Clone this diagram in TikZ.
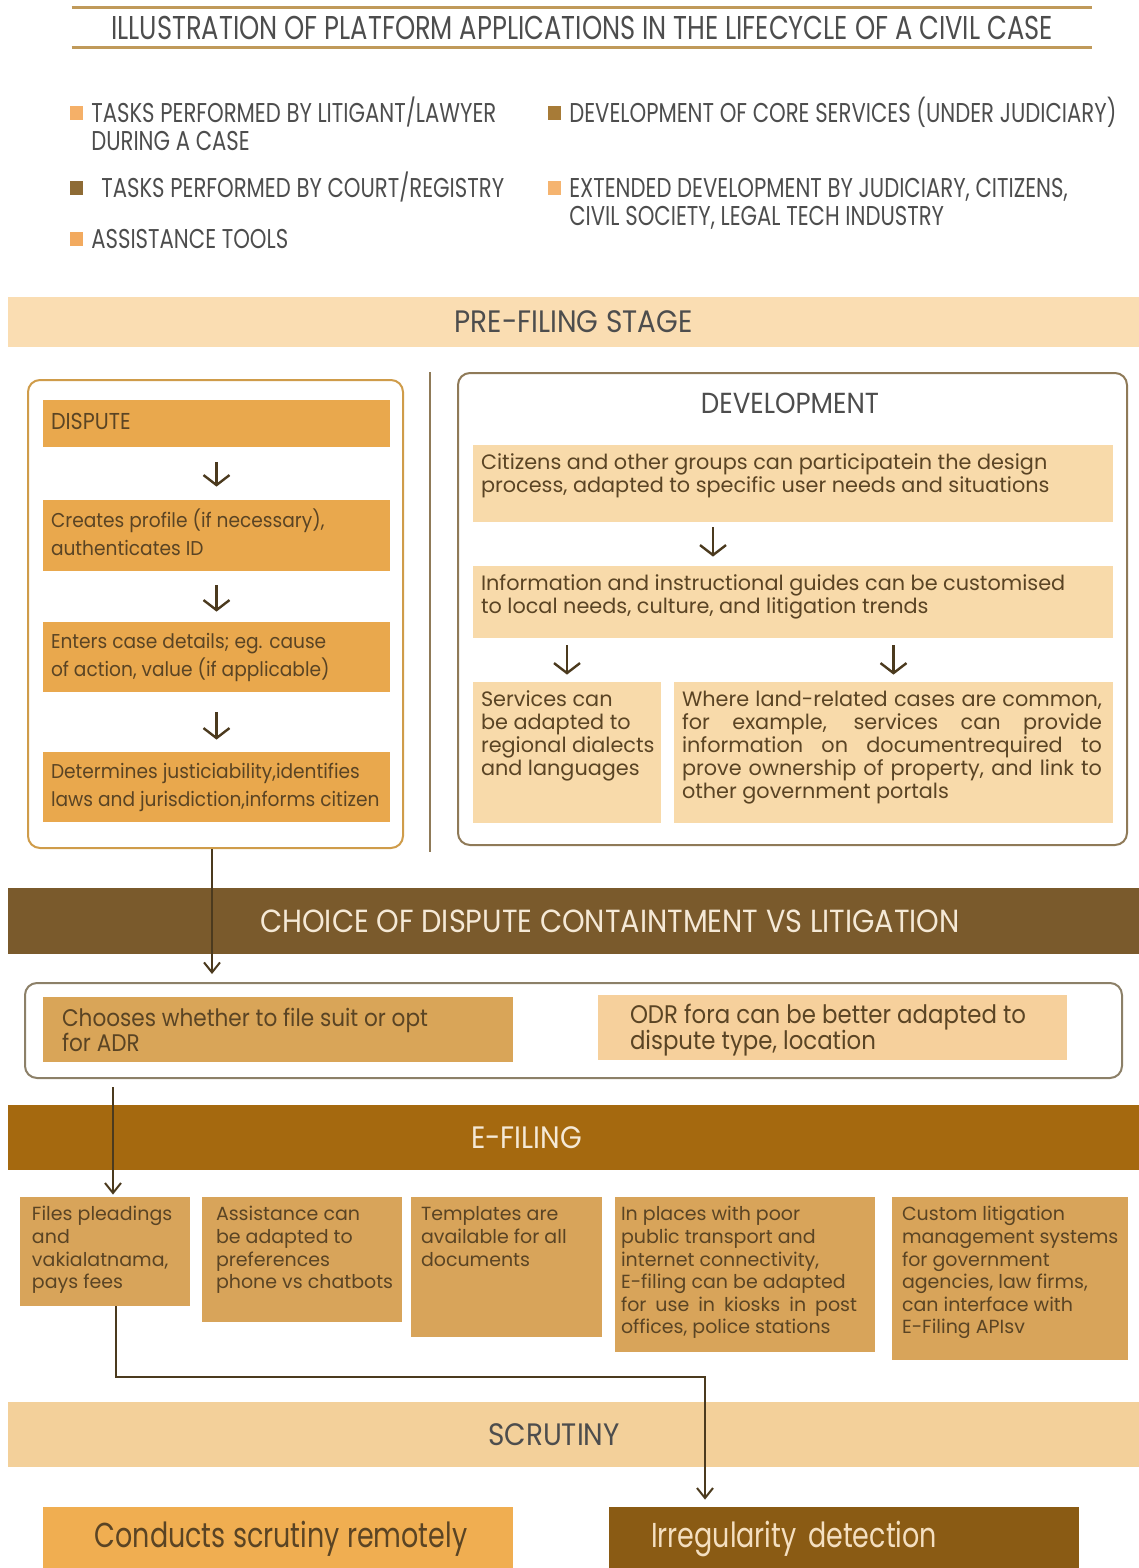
\documentclass[tikz,border=0pt]{standalone}
\usepackage{fontspec}
\setmainfont{Poppins}
\newfontfamily\condfont[FakeStretch=0.78]{Poppins}
\newfontfamily\midfont[FakeStretch=0.9]{Poppins}
\newfontfamily\narrowfont[FakeStretch=0.93]{Poppins}
\usetikzlibrary{arrows.meta, positioning, calc}

\definecolor{titlegold}{HTML}{C09A5A}
\definecolor{inkgray}{HTML}{4D4D4D}
\definecolor{inkbrown}{HTML}{5A4424}
\definecolor{legLit}{HTML}{F5B068}
\definecolor{legCourt}{HTML}{8E6B35}
\definecolor{legAssist}{HTML}{F2AA5F}
\definecolor{legCore}{HTML}{A77B37}
\definecolor{legExt}{HTML}{F5B470}
\definecolor{prefill}{HTML}{FADDB2}
\definecolor{framegold}{HTML}{CF9C4A}
\definecolor{taskorange}{HTML}{E9A84D}
\definecolor{framebrown}{HTML}{8F7A58}
\definecolor{devpeach}{HTML}{F8DAAA}
\definecolor{choicebrown}{HTML}{7A5A2C}
\definecolor{bandcream}{HTML}{F5E9D6}
\definecolor{framegray}{HTML}{8C8068}
\definecolor{choosefill}{HTML}{D9A558}
\definecolor{odrfill}{HTML}{F6D09C}
\definecolor{filebrown}{HTML}{A5690F}
\definecolor{filefill}{HTML}{D8A45A}
\definecolor{scrutfill}{HTML}{F3D09A}
\definecolor{conductfill}{HTML}{F0AE51}
\definecolor{irregfill}{HTML}{8A5B14}
\definecolor{irregtext}{HTML}{F4DFC0}
\definecolor{arrowbrown}{HTML}{4B3A1E}

% text block of fixed size: width, height, lines
\newcommand{\cell}[4][t]{\parbox[c][#3][#1]{#2}{\begin{tabular}{@{}l@{}}#4\end{tabular}}}

\tikzset{
  band/.style = {fill=#1, minimum width=565.5pt, inner sep=0pt, text=inkgray,
    font=\midfont\fontsize{15.5}{17}\selectfont},
  frame/.style = {draw=#1, rounded corners=6pt, line width=1pt, fill=white, inner sep=0pt},
  cellbox/.style = {fill=#1, inner sep=4pt, text=inkbrown},
  legsq/.style = {fill=#1, minimum width=6.5pt, minimum height=7pt, inner sep=0pt},
  legtxt/.style = {font=\condfont\fontsize{13.6}{14}\selectfont, text=inkgray, align=left,
    inner sep=0pt, anchor=north west},
  arrow/.style = {draw=arrowbrown, line width=1.2pt, -{Straight Barb[length=5pt, width=13pt]}},
  link/.style = {draw=arrowbrown, line width=1pt, -{Straight Barb[length=5pt, width=8pt]}},
}

\begin{document}
\begin{tikzpicture}[x=0.5pt, y=-0.5pt]
  \useasboundingbox (0,0) rectangle (1139,1568);

  % title
  \node[minimum width=510pt, minimum height=19.5pt, inner sep=0pt, text=inkgray,
    font=\condfont\fontsize{16.5}{18}\selectfont] (title) at (582,27.5)
    {ILLUSTRATION OF PLATFORM APPLICATIONS IN THE LIFECYCLE OF A CIVIL CASE};
  \draw[titlegold, line width=1.5pt] (title.north west) -- (title.north east);
  \draw[titlegold, line width=1.5pt] (title.south west) -- (title.south east);

  % legend
  \node[legsq=legLit] (sqlit) at (76,113) {};
  \node[legtxt] (leglit) at ([xshift=4pt, yshift=8.25pt]sqlit.east)
    {\rule{0pt}{13pt}TASKS PERFORMED BY LITIGANT/LAWYER\\DURING A CASE};
  \node[legsq=legCourt] (sqcourt) at (76,188) {};
  \node[legtxt] (legcourt) at ([xshift=9pt, yshift=8.25pt]sqcourt.east)
    {\rule{0pt}{13pt}TASKS PERFORMED BY COURT/REGISTRY};
  \node[legsq=legAssist] (sqassist) at (76,239) {};
  \node[legtxt] (legassist) at ([xshift=4pt, yshift=8.25pt]sqassist.east)
    {\rule{0pt}{13pt}ASSISTANCE TOOLS};
  \node[legsq=legCore] (sqcore) at (554,113) {};
  \node[legtxt] (legcore) at ([xshift=4pt, yshift=8.25pt]sqcore.east)
    {\rule{0pt}{13pt}DEVELOPMENT OF CORE SERVICES (UNDER JUDICIARY)};
  \node[legsq=legExt] (sqext) at (554,188) {};
  \node[legtxt] (legext) at ([xshift=4pt, yshift=8.25pt]sqext.east)
    {\rule{0pt}{13pt}EXTENDED DEVELOPMENT BY JUDICIARY, CITIZENS,\\CIVIL SOCIETY, LEGAL TECH INDUSTRY};

  % pre-filing stage
  \node[band=prefill, minimum height=25pt] (prefiling) at (573.5,322) {PRE-FILING STAGE};

  \node[frame=framegold, minimum width=187.5pt, minimum height=234pt] (leftframe) at (215.5,614) {};
  \begin{scope}[every node/.append style={font=\narrowfont\fontsize{10}{14}\selectfont}]
    \node[cellbox=taskorange] (dispute) at (216.5,423.5)
      {\cell[c]{165.5pt}{15.5pt}{\midfont\fontsize{11.5}{14}\selectfont DISPUTE}};
    \node[cellbox=taskorange] (profile) at (216.5,535.5)
      {\cell[c]{165.5pt}{27.5pt}{Creates profile (if necessary),\\authenticates ID}};
    \node[cellbox=taskorange] (details) at (216.5,657)
      {\cell[c]{165.5pt}{27pt}{Enters case details; eg. cause\\of action, value (if applicable)}};
    \node[cellbox=taskorange] (justice) at (216.5,787)
      {\cell[c]{165.5pt}{27pt}{Determines justiciability,identifies\\laws and jurisdiction,informs citizen}};
  \end{scope}

  \draw[framebrown, line width=1pt] (430,372) -- (430,852);

  \node[frame=framebrown, minimum width=334.5pt, minimum height=236pt] (devframe) at (792.5,609) {};
  \node[text=inkgray, font=\midfont\fontsize{14.5}{16}\selectfont] (devtitle) at (790,403) {DEVELOPMENT};
  \begin{scope}[every node/.append style={font=\fontsize{10.4}{11.5}\selectfont}]
    \node[cellbox=devpeach] (citizens) at (793,483.5)
      {\cell{312pt}{30.5pt}{Citizens and other groups can participatein the design\\process, adapted to specific user needs and situations}};
    \node[cellbox=devpeach] (guides) at (793,602)
      {\cell{312pt}{28pt}{Information and instructional guides can be customised\\to local needs, culture, and litigation trends}};
    \node[cellbox=devpeach] (services) at (567,752.5)
      {\cell{86pt}{62.5pt}{Services can\\be adapted to\\regional dialects\\and languages}};
    \node[cellbox=devpeach] (land) at (893.5,752.5)
      {\cell{211.5pt}{62.5pt}{\makebox[210pt][s]{Where land-related cases are common,}\\
        \makebox[210pt][s]{for example, services can provide}\\
        \makebox[210pt][s]{information on documentrequired to}\\
        \makebox[210pt][s]{prove ownership of property, and link to}\\
        other government portals}};
  \end{scope}

  % choice of dispute containment
  \node[band=choicebrown, minimum height=33pt, text=bandcream,
    font=\midfont\fontsize{16}{18}\selectfont] (choice) at (573.5,921)
    {\hspace*{36.5pt}CHOICE OF DISPUTE CONTAINTMENT VS LITIGATION};
  \node[frame=framegray, minimum width=548.5pt, minimum height=47.5pt] (choiceframe) at (573.5,1030.5) {};
  \begin{scope}[every node/.append style={font=\midfont\fontsize{12}{11.5}\selectfont}]
    \node[cellbox=choosefill, inner xsep=9.5pt] (choose) at (278,1029.5)
      {\parbox[c][24.5pt][c]{216pt}{\vspace*{4pt}\begin{tabular}{@{}l@{}}Chooses whether to file suit or opt\\for ADR\end{tabular}}};
    \node[cellbox=odrfill, inner xsep=16pt, font=\midfont\fontsize{12.7}{11.5}\selectfont] (odr) at (832.5,1027.5)
      {\parbox[c][24.5pt][c]{202.5pt}{\vspace*{3pt}\begin{tabular}{@{}l@{}}ODR fora can be better adapted to\\dispute type, location\end{tabular}}};
  \end{scope}

  % e-filing
  \node[band=filebrown, minimum height=32.5pt, text=bandcream] (efiling) at (573.5,1137.5)
    {E-FILING\hspace*{47pt}};
  \begin{scope}[every node/.append style={font=\fontsize{9.5}{11.3}\selectfont}]
    \node[cellbox=filefill, inner xsep=6pt] (files) at (105,1251.5)
      {\cell{73pt}{46.5pt}{Files pleadings\\and\\vakialatnama,\\pays fees}};
    \node[cellbox=filefill, inner xsep=7pt] (assist) at (302,1259.5)
      {\cell{86pt}{54.5pt}{Assistance can\\be adapted to\\preferences\\phone vs chatbots}};
    \node[cellbox=filefill, inner xsep=5pt] (templ) at (506.5,1267)
      {\cell{85.5pt}{62pt}{Templates are\\available for all\\documents}};
    \node[cellbox=filefill, inner xsep=3pt] (kiosk) at (745,1274.5)
      {\cell{124pt}{69.5pt}{In places with poor\\public transport and\\internet connectivity,\\E-filing can be adapted\\\makebox[118pt][s]{for use in kiosks in post}\\offices, police stations}};
    \node[cellbox=filefill, inner xsep=5pt] (custom) at (1010,1278.5)
      {\cell{108pt}{73.5pt}{Custom litigation\\management systems\\for government\\agencies, law firms,\\can interface with\\E-Filing APIsv}};
  \end{scope}

  % scrutiny
  \node[band=scrutfill, minimum height=32.5pt] (scrutiny) at (573.5,1434.5)
    {SCRUTINY\hspace*{19.5pt}};
  \node[fill=conductfill, minimum width=235pt, minimum height=31.5pt, text=inkbrown,
    font=\condfont\fontsize{17.3}{19}\selectfont] (conducts) at (278,1538.5)
    {\hspace*{3pt}Conducts scrutiny remotely};
  \node[fill=irregfill, minimum width=235pt, minimum height=31.5pt, text=irregtext,
    inner xsep=21pt, text width=193pt, align=left,
    font=\condfont\fontsize{17.3}{19}\selectfont] (irreg) at (844,1538.5)
    {Irregularity detection};

  % flow inside the boxes
  \draw[arrow, shorten <=7.5pt, shorten >=6.5pt] (dispute) -- (profile);
  \draw[arrow, shorten <=7pt, shorten >=5pt] (profile) -- (details);
  \draw[arrow, shorten <=10pt, shorten >=6pt] (details) -- (justice);
  \draw[arrow, shorten <=2.5pt, shorten >=4.5pt] ([xshift=-40pt]citizens.south) -- ([xshift=-40pt]guides.north);
  \draw[arrow, shorten <=3.5pt, shorten >=3.5pt] (guides.south -| services.north) -- (services.north);
  \draw[arrow, shorten <=3.5pt, shorten >=3.5pt] (guides.south -| land.north) -- (land.north);

  % links between the stages
  \draw[link, shorten >=4pt] ([xshift=-1.75pt]leftframe.south)
    -- ([xshift=-1.75pt]leftframe.south |- choiceframe.north);
  \draw[link, shorten <=4pt, shorten >=1pt] ([xshift=4pt]files.north |- choiceframe.south)
    -- ([xshift=4pt]files.north);
  \draw[link, shorten >=3.5pt] ([xshift=5.5pt]files.south) -- ++(0,71)
    -| ([xshift=-69.5pt]irreg.north);

\end{tikzpicture}
\end{document}
